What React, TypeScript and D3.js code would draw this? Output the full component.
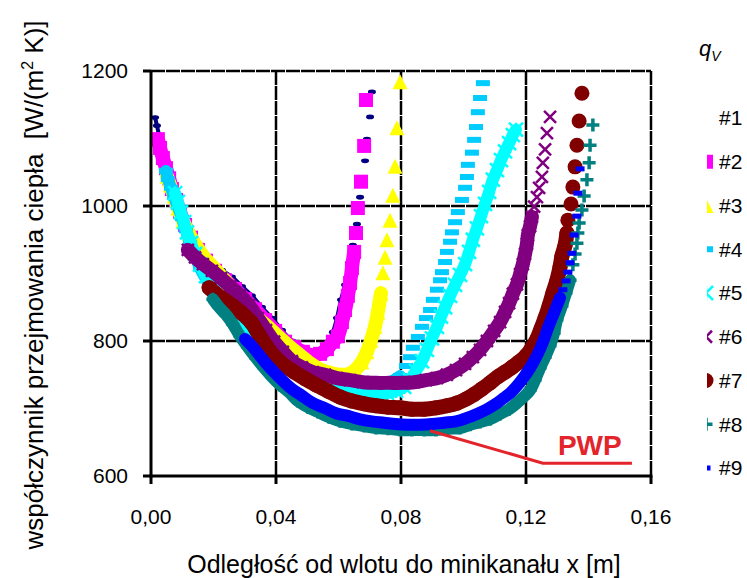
import React, { useEffect, useRef } from 'react';
import * as d3 from 'd3';

type Pt = [number, number];

const W = 747;
const H = 578;
const FONT = '"Liberation Sans", Arial, sans-serif';

const legendLabels = ['#1', '#2', '#3', '#4', '#5', '#6', '#7', '#8', '#9'];
const xTicks = [0, 0.04, 0.08, 0.12, 0.16];
const yTicks = [600, 800, 1000, 1200];

// values: [x in m, alpha in W/(m2 K)]
const s1: Pt[] = [
  [0.0013, 1131], [0.0019, 1119], [0.0029, 1098], [0.0038, 1079], [0.0051, 1056], [0.0064, 1034],
  [0.008, 1010], [0.0096, 988], [0.0115, 966], [0.0138, 945], [0.0166, 929], [0.0198, 916],
  [0.0227, 905], [0.0259, 895], [0.0291, 881], [0.0323, 867], [0.0355, 850], [0.0387, 834],
  [0.0419, 816], [0.0451, 800], [0.0483, 787], [0.0512, 781], [0.0541, 784], [0.0566, 797],
  [0.0582, 813], [0.0595, 834], [0.0608, 861], [0.0621, 883], [0.0634, 913], [0.0646, 942],
  [0.0659, 973], [0.0669, 1013], [0.0678, 1041], [0.0685, 1067], [0.0691, 1099], [0.0701, 1132],
  [0.0707, 1169],
];
const s2: Pt[] = [
  [0.0022, 1099], [0.0029, 1086], [0.0038, 1071], [0.0048, 1056], [0.0058, 1041], [0.0067, 1025],
  [0.008, 1009], [0.0093, 991], [0.0109, 972], [0.0128, 953], [0.015, 935], [0.0176, 919],
  [0.0205, 904], [0.0237, 890], [0.0269, 877], [0.0301, 862], [0.0333, 847], [0.0365, 831],
  [0.0397, 815], [0.0429, 799], [0.0458, 791], [0.0486, 784], [0.0515, 779], [0.0541, 781],
  [0.0563, 788], [0.0582, 799], [0.0598, 807], [0.0611, 828], [0.0621, 846], [0.063, 867],
  [0.0637, 886], [0.0643, 908], [0.065, 932], [0.0656, 960], [0.0662, 997], [0.0672, 1036],
  [0.0682, 1089], [0.0688, 1157],
];
const s3: Pt[] = [
  [0.0051, 1044], [0.0061, 1031], [0.0074, 1015], [0.0086, 997], [0.0102, 978], [0.0122, 959],
  [0.0144, 941], [0.017, 924], [0.0198, 910], [0.0227, 895], [0.0256, 879], [0.0285, 862],
  [0.0317, 846], [0.0349, 831], [0.0381, 818], [0.0413, 804], [0.0445, 791], [0.0477, 779],
  [0.0509, 767], [0.0541, 758], [0.0573, 753], [0.0605, 750], [0.063, 751], [0.0653, 757],
  [0.0675, 769], [0.0691, 784], [0.0704, 801], [0.0717, 822], [0.0726, 843], [0.0736, 871],
  [0.0742, 901], [0.0749, 924], [0.0755, 950], [0.0765, 979], [0.0774, 1016], [0.0781, 1059],
  [0.0787, 1116], [0.0797, 1184],
];
const s4: Pt[] = [
  [0.0048, 1052], [0.0054, 1040], [0.0064, 1027], [0.0074, 1013], [0.0086, 999], [0.0099, 982],
  [0.0112, 964], [0.0125, 945], [0.0141, 926], [0.0157, 908], [0.0179, 890], [0.0205, 873],
  [0.0237, 856], [0.0269, 840], [0.0301, 825], [0.0333, 810], [0.0365, 796], [0.0397, 782],
  [0.0429, 770], [0.0461, 760], [0.0493, 751], [0.0525, 744], [0.0557, 739], [0.0589, 736],
  [0.0621, 733], [0.0653, 732], [0.0685, 732], [0.0717, 733], [0.0749, 736], [0.0774, 741],
  [0.0797, 748], [0.0816, 763], [0.0829, 776], [0.0838, 790], [0.0854, 806], [0.0867, 821],
  [0.088, 834], [0.0893, 846], [0.0902, 861], [0.0915, 876], [0.0925, 890], [0.0931, 902],
  [0.0941, 917], [0.0947, 932], [0.0957, 947], [0.0963, 961], [0.0973, 976], [0.0982, 991],
  [0.0995, 1009], [0.1005, 1027], [0.1011, 1043], [0.1014, 1061], [0.1027, 1079], [0.1034, 1098],
  [0.104, 1117], [0.1046, 1139], [0.1053, 1160], [0.1062, 1182],
];
const s5: Pt[] = [
  [0.0077, 1019], [0.0086, 1006], [0.0096, 991], [0.0106, 976], [0.0115, 961], [0.0128, 945],
  [0.0141, 929], [0.0157, 913], [0.0176, 896], [0.0198, 880], [0.0221, 865], [0.0246, 850],
  [0.0275, 837], [0.0307, 824], [0.0339, 810], [0.0371, 797], [0.0403, 784], [0.0435, 770],
  [0.0467, 759], [0.0499, 748], [0.0531, 741], [0.0563, 735], [0.0595, 730], [0.0627, 727],
  [0.0659, 724], [0.0691, 723], [0.0723, 723], [0.0755, 723], [0.0784, 726], [0.081, 732],
  [0.0829, 742], [0.0848, 756], [0.0867, 770], [0.0883, 787], [0.0899, 804], [0.0915, 821],
  [0.0928, 836], [0.0941, 850], [0.0957, 867], [0.0973, 883], [0.0989, 898], [0.1005, 914],
  [0.1018, 932], [0.103, 950], [0.1043, 967], [0.1056, 985], [0.1069, 1003], [0.1082, 1021],
  [0.1094, 1039], [0.1107, 1053], [0.112, 1068], [0.1133, 1081], [0.1146, 1093], [0.1158, 1105],
  [0.1168, 1113],
];
const s6: Pt[] = [
  [0.0118, 935], [0.0141, 924], [0.0166, 914], [0.0195, 904], [0.0224, 893], [0.0253, 881],
  [0.0285, 868], [0.0314, 853], [0.0342, 834], [0.0368, 816], [0.0394, 799], [0.0422, 784],
  [0.0451, 770], [0.0483, 761], [0.0518, 754], [0.0557, 750], [0.0595, 745], [0.0637, 742],
  [0.0678, 739], [0.072, 738], [0.0762, 738], [0.0803, 738], [0.0842, 739], [0.088, 742],
  [0.0915, 745], [0.0947, 750], [0.0976, 757], [0.1005, 766], [0.103, 776], [0.1053, 787],
  [0.1075, 800], [0.1098, 815], [0.1117, 828], [0.1133, 843], [0.1146, 856], [0.1158, 870],
  [0.1171, 884], [0.1181, 899], [0.119, 914], [0.1197, 929], [0.1203, 944], [0.1206, 957],
  [0.1213, 970], [0.1219, 984], [0.1226, 999], [0.1235, 1013], [0.1242, 1027], [0.1251, 1043],
  [0.1254, 1064], [0.1261, 1084], [0.1267, 1108], [0.1277, 1132],
];
const s7: Pt[] = [
  [0.0186, 879], [0.0208, 870], [0.0234, 861], [0.0262, 852], [0.0291, 841], [0.032, 828],
  [0.0346, 809], [0.0371, 791], [0.0397, 776], [0.0426, 764], [0.0458, 754], [0.0493, 744],
  [0.0528, 735], [0.0566, 726], [0.0605, 717], [0.0643, 711], [0.0682, 707], [0.072, 704],
  [0.0758, 702], [0.0797, 701], [0.0835, 699], [0.0874, 699], [0.0912, 701], [0.0947, 704],
  [0.0979, 708], [0.1008, 714], [0.1034, 721], [0.1059, 729], [0.1085, 738], [0.111, 747],
  [0.1133, 754], [0.1155, 761], [0.1178, 769], [0.12, 778], [0.1219, 790], [0.1235, 803],
  [0.1248, 818], [0.1261, 834], [0.1274, 852], [0.1286, 871], [0.1299, 890], [0.1309, 910],
  [0.1315, 926], [0.1325, 942], [0.1331, 960], [0.1334, 979], [0.1344, 1003], [0.135, 1028],
  [0.1357, 1058], [0.1363, 1090], [0.137, 1126], [0.1379, 1167],
];
const s8: Pt[] = [
  [0.0198, 862], [0.0218, 850], [0.024, 839], [0.0262, 825], [0.0285, 807], [0.031, 791],
  [0.0336, 775], [0.0362, 760], [0.0387, 747], [0.0413, 735], [0.0442, 724], [0.047, 711],
  [0.0502, 702], [0.0534, 695], [0.057, 687], [0.0605, 681], [0.0643, 677], [0.0682, 674],
  [0.072, 671], [0.0758, 670], [0.0797, 668], [0.0835, 668], [0.0874, 668], [0.0912, 668],
  [0.095, 670], [0.0989, 671], [0.1021, 676], [0.1053, 680], [0.1085, 684], [0.1117, 692],
  [0.1146, 699], [0.1168, 707], [0.119, 716], [0.1213, 727], [0.1229, 742], [0.1245, 760],
  [0.1261, 776], [0.1277, 793], [0.129, 812], [0.1299, 831], [0.1315, 852], [0.1328, 871],
  [0.1341, 890], [0.135, 913], [0.1357, 929], [0.1363, 945], [0.1366, 960], [0.137, 975],
  [0.1379, 994], [0.1386, 1015], [0.1395, 1039], [0.1402, 1064], [0.1405, 1090], [0.1414, 1120],
];
const s9: Pt[] = [
  [0.0301, 803], [0.032, 794], [0.0342, 782], [0.0368, 767], [0.0394, 754], [0.0422, 741],
  [0.0451, 729], [0.0483, 719], [0.0518, 708], [0.0554, 701], [0.0592, 693], [0.063, 689],
  [0.0669, 684], [0.0707, 681], [0.0746, 679], [0.0784, 677], [0.0822, 676], [0.0861, 676],
  [0.0899, 677], [0.0938, 679], [0.0976, 681], [0.1011, 686], [0.1043, 692], [0.1075, 699],
  [0.1104, 707], [0.113, 716], [0.1152, 724], [0.1174, 735], [0.1194, 747], [0.1213, 760],
  [0.1229, 773], [0.1245, 788], [0.1258, 803], [0.127, 819], [0.1283, 834], [0.1296, 849],
  [0.1309, 864], [0.1318, 876], [0.1328, 889], [0.1334, 902], [0.1341, 916], [0.1347, 930],
  [0.1354, 957], [0.1363, 985], [0.1366, 1019], [0.1373, 1055],
];

const seriesData = [s1, s2, s3, s4, s5, s6, s7, s8, s9];

// PWP annotation leader, in data units
const pwpLine: Pt[] = [[0.0893, 667], [0.1254, 619], [0.1539, 619]];
const pwpText: Pt = [0.1302, 631];

type Look = { color: string; shape: string; size: number; band: number; bandEnd: number };
const looks: Look[] = [
  { color: '#000080', shape: 'dot', size: 8, band: 4, bandEnd: 0.0647 },
  { color: '#ff00ff', shape: 'square', size: 14, band: 14, bandEnd: 0.0651 },
  { color: '#ffff00', shape: 'triangle', size: 15, band: 14, bandEnd: 0.0737 },
  { color: '#00ccff', shape: 'dash', size: 14, band: 12, bandEnd: 0.08 },
  { color: '#00ffff', shape: 'star', size: 14, band: 12, bandEnd: 1 },
  { color: '#800080', shape: 'x', size: 12, band: 14, bandEnd: 0.122 },
  { color: '#800000', shape: 'circle', size: 15, band: 15, bandEnd: 0.1332 },
  { color: '#008080', shape: 'plus', size: 13, band: 12, bandEnd: 0.1342 },
  { color: '#0000ff', shape: 'shortdash', size: 9, band: 12, bandEnd: 0.131 },
];

const addMarker = (g: any, shape: string, size: number, color: string) => {
  const h = size / 2;
  if (shape === 'square') {
    g.append('rect').attr('x', -h).attr('y', -h).attr('width', size).attr('height', size).attr('fill', color);
  } else if (shape === 'triangle') {
    g.append('path').attr('d', `M0,${-h}L${h},${h}L${-h},${h}Z`).attr('fill', color);
  } else if (shape === 'dash') {
    g.append('rect').attr('x', -h).attr('y', -3).attr('width', size).attr('height', 6).attr('fill', color);
  } else if (shape === 'shortdash') {
    g.append('rect').attr('x', -h).attr('y', -2.5).attr('width', size).attr('height', 5).attr('fill', color);
  } else if (shape === 'dot') {
    g.append('ellipse').attr('rx', h).attr('ry', h * 0.6).attr('fill', color);
  } else if (shape === 'circle') {
    g.append('circle').attr('r', h).attr('fill', color);
  } else if (shape === 'x') {
    g.append('path').attr('d', `M${-h},${-h}L${h},${h}M${-h},${h}L${h},${-h}`)
      .attr('stroke', color).attr('stroke-width', 2.5).attr('fill', 'none');
  } else if (shape === 'star') {
    g.append('path').attr('d', `M${-h},${-h}L${h},${h}M${-h},${h}L${h},${-h}M0,${-h}V${h}`)
      .attr('stroke', color).attr('stroke-width', 2.5).attr('fill', 'none');
  } else if (shape === 'plus') {
    g.append('path').attr('d', `M${-h},0H${h}M0,${-h}V${h}`)
      .attr('stroke', color).attr('stroke-width', 3.5).attr('fill', 'none');
  }
};

const App = () => {
  const svgRef = useRef<SVGSVGElement>(null);

  useEffect(() => {
    const svg = d3.select(svgRef.current);
    svg.selectAll('*').remove();

    const left = 151, right = 651, top = 71, bottom = 476;
    const xScale = d3.scaleLinear().domain([0, 0.16]).range([left, right]);
    const yScale = d3.scaleLinear().domain([600, 1200]).range([bottom, top]);
    const fmtX = d3.formatLocale({ decimal: ',', thousands: '', grouping: [3], currency: ['', ''] }).format('.2f');

    svg.append('rect').attr('width', W).attr('height', H).attr('fill', '#fff');

    // grid
    const grid = svg.append('g').attr('stroke', '#000').attr('stroke-width', 2.5).attr('stroke-dasharray', '14,1');
    xTicks.slice(1).forEach((t) => {
      grid.append('line').attr('x1', xScale(t)).attr('x2', xScale(t)).attr('y1', top).attr('y2', bottom);
    });
    yTicks.slice(1).forEach((t) => {
      grid.append('line').attr('x1', left).attr('x2', right).attr('y1', yScale(t)).attr('y2', yScale(t));
    });

    // series
    const line = d3.line<Pt>().x((d) => xScale(d[0])).y((d) => yScale(d[1])).curve(d3.curveCatmullRom);
    seriesData.forEach((pts, i) => {
      const lk = looks[i];
      const dense = pts.filter((d) => d[0] <= lk.bandEnd);
      svg.append('path').attr('d', line(dense)).attr('fill', 'none').attr('stroke', lk.color)
        .attr('stroke-width', lk.band).attr('stroke-linecap', 'round').attr('stroke-linejoin', 'round');
      pts.forEach((d) => {
        const g = svg.append('g').attr('transform', `translate(${xScale(d[0])},${yScale(d[1])})`);
        addMarker(g, lk.shape, lk.size, lk.color);
      });
    });

    // axes
    const ax = svg.append('g').attr('stroke', '#000').attr('stroke-width', 3);
    ax.append('line').attr('x1', left).attr('x2', left).attr('y1', top - 1).attr('y2', bottom + 1.5);
    ax.append('line').attr('x1', left - 1.5).attr('x2', right + 1.5).attr('y1', bottom).attr('y2', bottom);
    yTicks.forEach((t) => {
      ax.append('line').attr('x1', left - 8).attr('x2', left).attr('y1', yScale(t)).attr('y2', yScale(t));
    });
    xTicks.forEach((t) => {
      ax.append('line').attr('x1', xScale(t)).attr('x2', xScale(t)).attr('y1', bottom).attr('y2', bottom + 8);
    });

    const txt = svg.append('g').style('font-family', FONT).attr('fill', '#000');
    yTicks.forEach((t) => {
      txt.append('text').attr('x', 128).attr('y', yScale(t)).attr('dy', '0.35em')
        .attr('text-anchor', 'end').style('font-size', '21px').text(String(t));
    });
    xTicks.forEach((t) => {
      txt.append('text').attr('x', xScale(t)).attr('y', 524)
        .attr('text-anchor', 'middle').style('font-size', '21px').text(fmtX(t));
    });

    txt.append('text').attr('x', 404).attr('y', 573).attr('text-anchor', 'middle')
      .style('font-size', '25px').text('Odległość od wlotu do minikanału x [m]');

    const yt = txt.append('text').attr('transform', 'translate(43,285) rotate(-90)')
      .attr('text-anchor', 'middle').style('font-size', '26px').style('white-space', 'pre');
    yt.append('tspan').text('współczynnik przejmowania ciepła  [W/(m');
    yt.append('tspan').attr('dy', -10).style('font-size', '16px').text('2');
    yt.append('tspan').attr('dy', 10).text(' K)]');

    // PWP annotation
    svg.append('path')
      .attr('d', d3.line<Pt>().x((d) => xScale(d[0])).y((d) => yScale(d[1]))(pwpLine))
      .attr('fill', 'none').attr('stroke', '#e3242b').attr('stroke-width', 3);
    svg.append('text').attr('x', xScale(pwpText[0])).attr('y', yScale(pwpText[1]))
      .style('font-family', FONT).style('font-size', '28px').style('font-weight', 'bold')
      .attr('fill', '#e3242b').text('PWP');

    // legend
    svg.append('defs').append('clipPath').attr('id', 'legclip')
      .append('rect').attr('x', 707).attr('y', 0).attr('width', 40).attr('height', H);
    const q = txt.append('text').attr('x', 699).attr('y', 56).style('font-size', '22px').style('font-style', 'italic');
    q.append('tspan').text('q');
    q.append('tspan').attr('dy', 5).style('font-size', '14px').text('V');

    legendLabels.forEach((lab, i) => {
      const yy = 118 + i * 43.75;
      if (looks[i].shape !== 'dot') {
        const g = svg.append('g').attr('clip-path', 'url(#legclip)')
          .append('g').attr('transform', `translate(706,${yy})`);
        addMarker(g, looks[i].shape, looks[i].size, looks[i].color);
      }
      txt.append('text').attr('x', 719).attr('y', yy).attr('dy', '0.35em').style('font-size', '21px').text(lab);
    });
  }, []);

  return (
    <svg ref={svgRef} width={W} height={H} style={{ position: 'absolute', left: 0, top: 0, display: 'block' }} />
  );
};

export default App;
